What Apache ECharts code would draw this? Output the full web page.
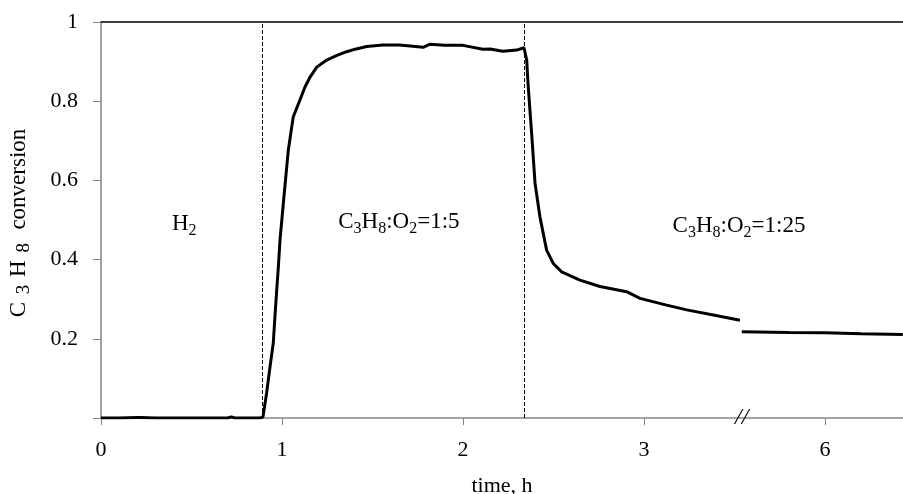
<!DOCTYPE html>
<html>
<head>
<meta charset="utf-8">
<script src="https://cdn.jsdelivr.net/npm/echarts@6/dist/echarts.min.js"></script>
<style>html,body{margin:0;padding:0;background:#fff}#c{width:903px;height:494px}</style>
</head>
<body>
<div id="c"></div>
<script>
// ---- data (time in hours, C3H8 conversion) ----
const timeBeforeBreak = [0, 0.1, 0.2, 0.21, 0.22, 0.3, 0.5, 0.7, 0.72, 0.74, 0.88, 0.895, 0.915, 0.934, 0.952, 0.961, 0.971, 0.98, 0.989, 1.007, 1.035, 1.062, 1.099, 1.127, 1.155, 1.192, 1.247, 1.30, 1.357, 1.41, 1.468, 1.558, 1.65, 1.78, 1.818, 1.9, 2.0, 2.11, 2.149, 2.22, 2.297, 2.337, 2.352, 2.359, 2.379, 2.398, 2.425, 2.462, 2.499, 2.545, 2.646, 2.757, 2.904, 2.978, 3.125, 3.236, 3.383, 3.53];
const convBeforeBreak = [0, 0, 0.001, 0.006, 0.001, 0, 0, 0, 0.003, 0, 0, 0.003, 0.063, 0.13, 0.19, 0.256, 0.324, 0.382, 0.45, 0.54, 0.677, 0.76, 0.803, 0.836, 0.861, 0.886, 0.904, 0.915, 0.925, 0.932, 0.938, 0.942, 0.942, 0.936, 0.944, 0.941, 0.941, 0.931, 0.932, 0.926, 0.929, 0.935, 0.904, 0.846, 0.72, 0.593, 0.508, 0.424, 0.39, 0.369, 0.348, 0.332, 0.319, 0.302, 0.285, 0.273, 0.26, 0.247];
const timeAfterBreak = [5.54, 5.8, 6.0, 6.2, 6.43];
const convAfterBreak = [0.218, 0.216, 0.215, 0.213, 0.211];

const tickHours = [0, 1, 2, 3, 6];
const yTicks = [0.2, 0.4, 0.6, 0.8, 1];
const switchTimes = [0.891, 2.337];
const regionLabels = ['H2', 'C3H8:O2=1:5', 'C3H8:O2=1:25'];
const regionLabelAt = [[0.46, 0.49], [1.646, 0.495], [3.525, 0.485]];
const breakHour = 3.54;
const breakGap = 2; // hours cut out by the axis break

function pos(t) { return t >= breakHour + 0.5 ? t - breakGap : t; }
function pair(ts, vs) { return ts.map((t, i) => [pos(t), vs[i]]); }

// chemical formula -> rich text with subscripts
function chem(s, sub) {
  return s.replace(/([A-Za-z])(\d+)/g, (m, a, d) => a + '{' + sub + '|' + d + '}');
}

const FONT = 'Liberation Serif';

const chart = echarts.init(document.getElementById('c'), null, { renderer: 'canvas' });
chart.setOption({
  animation: false,
  backgroundColor: '#fff',
  grid: { left: 101, top: 22, right: 0, bottom: 76, containLabel: false, outerBoundsMode: 'none' },
  xAxis: [{
    type: 'value', min: 0, max: 4.431,
    name: 'time, h', nameLocation: 'middle', nameGap: 57,
    nameTextStyle: { fontFamily: FONT, fontSize: 22, color: '#000' },
    axisLine: { lineStyle: { color: '#858585', width: 1.5 } },
    axisTick: { show: true, length: 7, lineStyle: { color: '#858585' }, customValues: tickHours.map(pos) },
    axisLabel: {
      customValues: tickHours.map(pos), margin: 21,
      fontFamily: FONT, fontSize: 22, color: '#000',
      formatter: v => { const i = tickHours.map(pos).indexOf(v); return i >= 0 ? String(tickHours[i]) : ''; }
    },
    splitLine: { show: false }
  }, {
    type: 'value', min: 0, max: 4.431, position: 'top',
    axisLine: { show: true, lineStyle: { color: '#000', width: 1.5 } },
    axisTick: { show: false }, axisLabel: { show: false }, splitLine: { show: false }
  }],
  yAxis: {
    type: 'value', min: 0, max: 1, interval: 0.2,
    name: 'C {s|3} H {s|8}  conversion', nameLocation: 'middle', nameGap: 67, nameRotate: 90,
    nameTextStyle: {
      fontFamily: FONT, fontSize: 23, color: '#000', lineHeight: 30, padding: [0, 6, 0, 0],
      rich: { s: { fontFamily: FONT, fontSize: 19, color: '#000', verticalAlign: 'bottom', lineHeight: 30, padding: [0, 2, 0, 2] } }
    },
    axisLine: { show: true, lineStyle: { color: '#858585', width: 1.5 } },
    axisTick: { show: true, length: 8, lineStyle: { color: '#858585' } },
    axisLabel: {
      margin: 23, fontFamily: FONT, fontSize: 22, color: '#000',
      formatter: v => (yTicks.some(t => Math.abs(t - v) < 1e-9) ? String(+v.toFixed(1)) : '')
    },
    splitLine: { show: false }
  },
  series: [{
    type: 'line', data: pair(timeBeforeBreak, convBeforeBreak), showSymbol: false,
    lineStyle: { color: '#000', width: 3 }, z: 5,
    markLine: {
      silent: true, symbol: 'none', animation: false,
      lineStyle: { color: '#000', type: [4, 2], width: 1 },
      label: { show: false },
      data: switchTimes.map(t => ({ xAxis: pos(t) }))
    },
    markPoint: {
      silent: true, symbolSize: 0, animation: false,
      label: {
        show: true, position: 'inside', fontFamily: FONT, fontSize: 23, color: '#000', lineHeight: 30,
        rich: { s: { fontFamily: FONT, fontSize: 16, color: '#000', verticalAlign: 'bottom', lineHeight: 30 } },
        formatter: p => chem(p.name, 's')
      },
      data: regionLabels.map((n, i) => ({ name: n, coord: [pos(regionLabelAt[i][0]), regionLabelAt[i][1]] }))
        .concat([{ name: 'break', coord: [breakHour, 0], label: { formatter: '//', fontSize: 24, fontStyle: 'italic', fontFamily: FONT } }])
    }
  }, {
    type: 'line', data: pair(timeAfterBreak, convAfterBreak), showSymbol: false,
    lineStyle: { color: '#000', width: 3 }, z: 5
  }]
});
</script>
</body>
</html>
